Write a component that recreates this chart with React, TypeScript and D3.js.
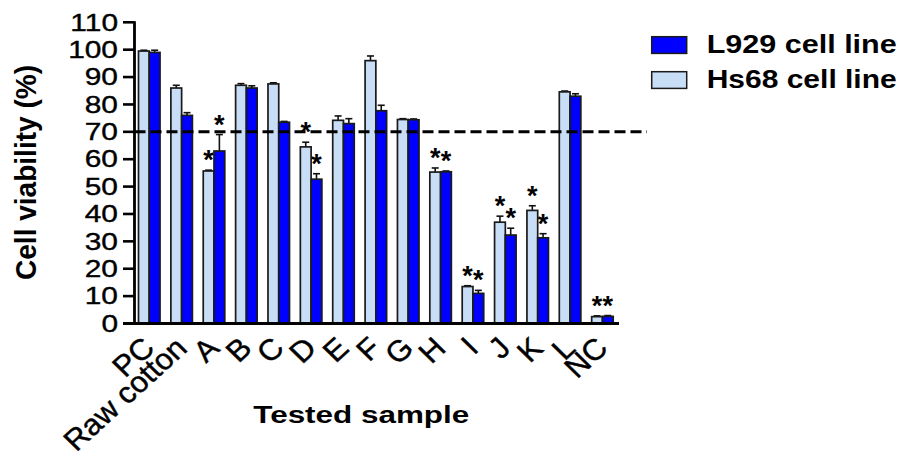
import * as d3 from "d3";

const categories = ["PC", "Raw cotton", "A", "B", "C", "D", "E", "F", "G", "H", "I", "J", "K", "L", "NC"];
const seriesNames = ["Hs68 cell line", "L929 cell line"];
const hs68 = [99.5, 86, 55.7, 87, 87.5, 64.5, 74.2, 96, 74.5, 55.3, 13.5, 37, 41.3, 84.6, 2.5];
const hs68Err = [0.3, 1, 0.3, 0.6, 0.4, 1.7, 1.6, 1.7, 0.3, 1.5, 0.3, 2.2, 1.7, 0.3, 0.3];
const l929 = [99, 76, 63, 86, 73.5, 52.7, 73, 77.7, 74.4, 55.4, 11, 32.3, 31.3, 83, 2.6];
const l929Err = [0.8, 1, 6, 0.8, 0.3, 2, 1.8, 2, 0.3, 0.3, 1.1, 2.5, 1.5, 0.9, 0.3];
const hs68Star = ["A", "D", "H", "I", "J", "K", "NC"];
const l929Star = ["A", "D", "H", "I", "J", "K", "NC"];
const yTicks = [0, 10, 20, 30, 40, 50, 60, 70, 80, 90, 100, 110];
const cutoff = 70;

const FONT = "'Liberation Sans', Arial, sans-serif";
const LIGHT = "#c8ddf6";
const BLUE = "#0000ff";

export default function App() {
  const axisX = 134.5;
  const x = d3.scaleBand<string>().domain(categories).range([138.5, 613.2]).paddingInner(0.335).paddingOuter(0);
  const xs = d3.scaleBand<string>().domain(seriesNames).range([0, x.bandwidth()]);
  const y = d3.scaleLinear().domain([0, 110]).range([323.5, 22.3]);

  const rows = categories.map((c, i) => ({
    cat: c,
    bars: [
      { s: seriesNames[0], v: hs68[i], e: hs68Err[i], star: hs68Star.includes(c), fill: LIGHT },
      { s: seriesNames[1], v: l929[i], e: l929Err[i], star: l929Star.includes(c), fill: BLUE },
    ],
  }));

  return (
    <svg width={903} height={459} style={{ position: "absolute", left: 0, top: 0, background: "#fff" }} fontFamily={FONT}>
      {/* bars */}
      {rows.map((r) => (
        <g key={r.cat} transform={`translate(${x(r.cat)},0)`}>
          {r.bars.map((b) => {
            const bx = xs(b.s)!;
            const cx = bx + xs.bandwidth() / 2;
            const top = y(b.v + b.e);
            return (
              <g key={b.s}>
                <line x1={cx} x2={cx} y1={y(b.v)} y2={top} stroke="#111" strokeWidth={1.6} />
                <line x1={cx - 3.5} x2={cx + 3.5} y1={top} y2={top} stroke="#111" strokeWidth={1.6} />
                <rect x={bx} y={y(b.v)} width={xs.bandwidth()} height={y(0) - y(b.v)} fill={b.fill} stroke="#1a1a1a" strokeWidth={1.7} />
                {b.star && (
                  <text x={cx} y={top - 1} textAnchor="middle" fontSize={27} fontWeight="bold">*</text>
                )}
              </g>
            );
          })}
        </g>
      ))}

      {/* 70% cutoff */}
      <line x1={axisX} x2={647} y1={y(cutoff)} y2={y(cutoff)} stroke="#000" strokeWidth={3} strokeDasharray="11,5" />

      {/* y axis */}
      <line x1={axisX} x2={axisX} y1={y(110) - 1} y2={y(0) + 1.5} stroke="#000" strokeWidth={2.8} />
      {yTicks.map((t) => (
        <g key={t} transform={`translate(0,${y(t)})`}>
          <line x1={123} x2={axisX} stroke="#000" strokeWidth={2.6} />
          <text transform="translate(118,0) scale(1.3,1)" textAnchor="end" dy="0.36em" fontSize={23} stroke="#000" strokeWidth={0.35}>{t}</text>
        </g>
      ))}
      {/* x axis */}
      <line x1={123} x2={619} y1={y(0)} y2={y(0)} stroke="#000" strokeWidth={2.8} />
      {categories.map((c) => (
        <text key={c} transform={`translate(${x(c)! + x.bandwidth() / 2 + 7},${350}) scale(1.06,1) rotate(-44)`} textAnchor="end" fontSize={29.5} stroke="#000" strokeWidth={0.45}>{c}</text>
      ))}

      {/* axis titles */}
      <text transform="translate(36,172.5) scale(1.3,1) rotate(-90)" textAnchor="middle" fontSize={23} fontWeight="bold" textLength={215} lengthAdjust="spacingAndGlyphs">Cell viability (%)</text>
      <text x={253.3} y={423.3} fontSize={23.5} fontWeight="bold" textLength={216} lengthAdjust="spacingAndGlyphs">Tested sample</text>

      {/* legend */}
      {[seriesNames[1], seriesNames[0]].map((s, i) => (
        <g key={s} transform={`translate(651.7,${36.7 + i * 35})`}>
          <rect width={35} height={16.7} fill={s === seriesNames[1] ? BLUE : LIGHT} stroke="#1a1a1a" strokeWidth={1.5} />
          <text x={55} y={16.6} fontSize={25} fontWeight="bold" textLength={190} lengthAdjust="spacingAndGlyphs">{s}</text>
        </g>
      ))}
    </svg>
  );
}
